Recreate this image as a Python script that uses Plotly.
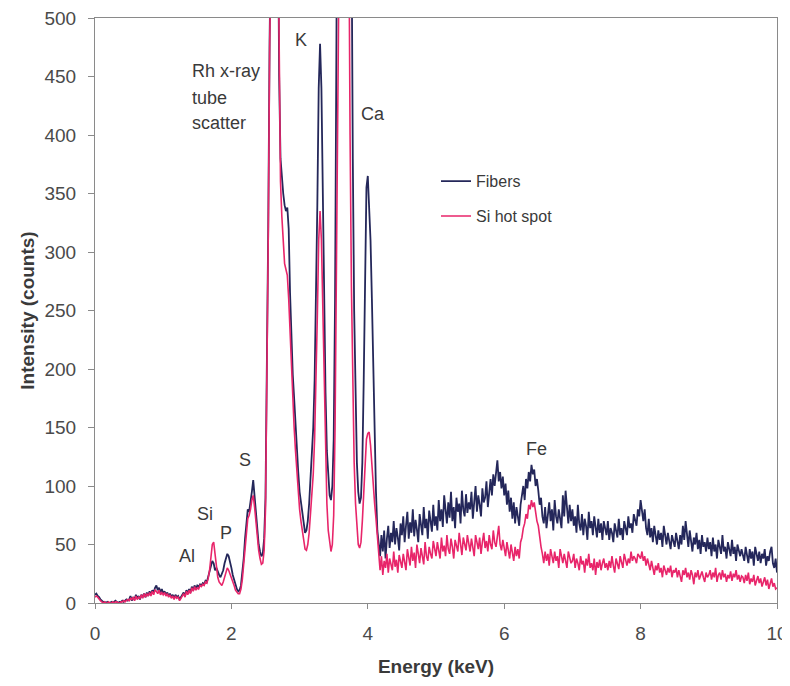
import plotly.graph_objects as go

# Channel calibration (keV): energy of channel i = ENERGY_START + i * ENERGY_STEP
ENERGY_START = 0.0
ENERGY_STEP = 0.02

# Counts, one row per 0.5 keV (25 channels), last value at 10 keV
fibers_counts = (
    [7, 8, 6, 5, 3, 2, 1, 1, 0, 1, 0, 0, 1, 0, 1, 2, 1, 0, 1, 1, 2, 1, 2, 3, 2]
    + [3, 6, 2, 5, 3, 7, 4, 6, 3, 7, 5, 8, 5, 9, 6, 10, 7, 11, 9, 13, 15, 11, 13, 9, 12]
    + [8, 10, 7, 9, 6, 8, 5, 7, 4, 7, 5, 6, 3, 5, 7, 9, 6, 11, 8, 12, 9, 14, 11, 15, 12]
    + [15, 14, 16, 15, 17, 16, 19, 18, 22, 26, 32, 36, 34, 28, 30, 26, 24, 22, 25, 28, 34, 38, 42, 40, 36]
    + [30, 24, 20, 15, 12, 10, 11, 15, 25, 38, 55, 68, 80, 78, 85, 95, 105, 90, 75, 60, 50, 44, 40, 42, 55]
    + [90, 180, 320, 480, 620, 750, 830, 860, 800, 620, 450, 380, 360, 350, 340, 335, 338, 320, 265, 225, 195, 175, 150, 130, 112]
    + [95, 85, 75, 66, 60, 62, 70, 85, 105, 125, 150, 190, 250, 340, 440, 478, 440, 340, 250, 180, 130, 105, 92, 88, 100]
    + [140, 260, 480, 800, 1200, 1600, 1900, 2000, 2000, 1900, 1600, 1200, 800, 560, 380, 250, 170, 120, 95, 85, 90, 120, 190, 290, 355]
    + [365, 340, 310, 260, 200, 140, 95, 62, 48, 40, 58, 44, 62, 38, 55, 66, 47, 60, 52, 70, 50, 64, 56, 45, 68]
    + [58, 74, 52, 66, 78, 55, 69, 60, 80, 57, 71, 63, 52, 76, 67, 58, 82, 64, 72, 55, 79, 68, 61, 84, 66]
    + [74, 62, 88, 70, 80, 65, 92, 76, 68, 86, 73, 95, 70, 82, 64, 90, 78, 85, 68, 96, 80, 74, 93, 77, 86]
    + [80, 95, 72, 88, 100, 78, 92, 84, 74, 98, 86, 90, 104, 82, 96, 106, 92, 110, 100, 115, 122, 104, 112, 98, 108]
    + [92, 102, 84, 96, 78, 90, 72, 86, 68, 82, 74, 66, 84, 92, 100, 88, 106, 98, 112, 104, 118, 110, 114, 100, 106]
    + [96, 84, 90, 74, 68, 82, 64, 78, 86, 70, 80, 62, 88, 74, 68, 80, 72, 64, 92, 74, 96, 78, 68, 84, 70]
    + [80, 66, 74, 60, 84, 68, 62, 76, 58, 72, 66, 54, 78, 64, 70, 58, 74, 62, 56, 72, 60, 68, 54, 70, 62]
    + [58, 70, 54, 64, 60, 52, 68, 62, 56, 72, 58, 64, 54, 70, 62, 58, 74, 64, 68, 60, 76, 70, 66, 80, 74]
    + [88, 76, 70, 80, 64, 58, 72, 56, 64, 52, 66, 58, 50, 62, 54, 60, 48, 66, 56, 50, 60, 52, 46, 58, 54]
    + [48, 60, 52, 46, 58, 50, 66, 54, 70, 56, 48, 62, 50, 44, 56, 50, 60, 46, 54, 42, 58, 48, 52, 44, 56]
    + [46, 52, 40, 56, 44, 50, 38, 54, 46, 42, 58, 44, 48, 38, 52, 44, 40, 54, 42, 48, 36, 50, 44, 40, 46]
    + [42, 36, 48, 40, 34, 46, 38, 44, 32, 48, 40, 36, 44, 34, 42, 38, 46, 32, 40, 36, 44, 48, 34, 30, 38]
    + [26]
)

si_hot_spot_counts = (
    [5, 6, 5, 3, 2, 1, 0, 1, 0, 0, 1, 0, 0, 1, 0, 1, 1, 0, 0, 1, 1, 2, 1, 2, 3]
    + [2, 4, 3, 5, 2, 6, 3, 5, 4, 7, 4, 8, 5, 8, 6, 9, 6, 10, 7, 11, 10, 8, 11, 7, 9]
    + [7, 9, 6, 8, 5, 7, 4, 6, 3, 6, 4, 5, 2, 4, 6, 8, 5, 10, 7, 11, 8, 13, 10, 14, 11]
    + [13, 12, 15, 14, 16, 15, 18, 17, 21, 28, 40, 50, 52, 40, 30, 22, 18, 16, 15, 18, 22, 26, 30, 28, 25]
    + [22, 18, 15, 11, 9, 8, 8, 12, 20, 32, 48, 60, 72, 75, 80, 88, 92, 82, 70, 55, 45, 38, 33, 34, 45]
    + [80, 170, 310, 470, 610, 740, 820, 850, 790, 600, 440, 360, 330, 310, 290, 285, 280, 260, 230, 195, 170, 150, 130, 112, 95]
    + [80, 70, 62, 52, 46, 45, 50, 60, 75, 92, 110, 140, 185, 245, 310, 335, 310, 245, 180, 125, 85, 62, 50, 44, 50]
    + [75, 150, 280, 420, 560, 800, 1000, 1100, 1100, 1000, 800, 560, 400, 270, 180, 120, 85, 62, 50, 47, 52, 70, 95, 125, 140]
    + [145, 146, 135, 115, 98, 85, 72, 55, 38, 28, 40, 24, 36, 30, 42, 26, 38, 33, 28, 44, 31, 37, 26, 41, 34]
    + [30, 42, 35, 28, 46, 38, 32, 48, 36, 43, 30, 50, 39, 34, 47, 41, 33, 52, 40, 36, 48, 42, 38, 53, 44]
    + [40, 52, 45, 38, 56, 44, 49, 40, 58, 46, 42, 55, 48, 38, 54, 50, 44, 60, 47, 41, 56, 49, 45, 58, 50]
    + [44, 55, 48, 40, 58, 50, 46, 56, 42, 52, 60, 47, 53, 44, 58, 50, 46, 62, 52, 48, 57, 66, 50, 45, 54]
    + [48, 40, 52, 44, 38, 50, 42, 36, 48, 40, 46, 38, 52, 56, 64, 68, 76, 72, 84, 80, 88, 82, 86, 76, 70]
    + [66, 56, 48, 42, 34, 44, 36, 42, 32, 46, 38, 34, 44, 36, 40, 30, 46, 38, 34, 42, 36, 30, 44, 38, 34]
    + [36, 42, 30, 38, 34, 28, 40, 33, 36, 26, 38, 32, 42, 30, 34, 28, 38, 24, 35, 30, 37, 28, 34, 38, 30]
    + [34, 28, 36, 30, 40, 32, 26, 38, 33, 29, 40, 34, 30, 42, 36, 32, 38, 34, 44, 36, 40, 38, 34, 42, 40]
    + [38, 44, 36, 40, 32, 38, 34, 28, 36, 30, 24, 32, 28, 34, 26, 30, 22, 32, 28, 24, 30, 26, 32, 22, 28]
    + [26, 30, 22, 28, 24, 18, 28, 24, 30, 22, 26, 20, 28, 24, 16, 26, 22, 28, 20, 24, 27, 22, 18, 26, 22]
    + [24, 28, 20, 26, 22, 30, 18, 24, 26, 20, 28, 22, 25, 18, 24, 21, 27, 19, 25, 22, 28, 20, 24, 18, 23]
    + [22, 17, 24, 19, 26, 16, 21, 18, 24, 15, 20, 23, 17, 21, 14, 19, 22, 15, 20, 12, 18, 21, 14, 17, 12]
    + [13]
)

series_names = ["Fibers", "Si hot spot"]

# Peak labels: (text, energy keV, counts)
peak_labels = [
    ("Rh x-ray", 1.39, 455),
    ("tube", 1.39, 432),
    ("scatter", 1.39, 410),
    ("K", 3.02, 481),
    ("Ca", 4.08, 418),
    ("S", 2.2, 122),
    ("Si", 1.61, 76),
    ("P", 1.92, 60),
    ("Al", 1.35, 40),
    ("Fe", 6.48, 132),
]

FONT = "Liberation Sans, Arial, sans-serif"

def energies_for(counts):
    return [round(ENERGY_START + i * ENERGY_STEP, 2) for i in range(len(counts))]

fig = go.Figure()
fig.add_trace(go.Scatter(
    x=energies_for(fibers_counts), y=fibers_counts, mode="lines",
    name=series_names[0], legendgroup="a",
    line=dict(color="#24275a", width=1.8),
))
fig.add_trace(go.Scatter(
    x=energies_for(si_hot_spot_counts), y=si_hot_spot_counts, mode="lines",
    name=series_names[1], legendgroup="b",
    line=dict(color="#e8256a", width=1.6),
))

for text, ex, cy in peak_labels:
    xanchor = "left" if text in ("Rh x-ray", "tube", "scatter") else "center"
    fig.add_annotation(
        x=ex, y=cy, text=text, showarrow=False, xanchor=xanchor, yanchor="middle",
        font=dict(family=FONT, size=18, color="#3a3a3a"),
    )

# The page body adds an 8px offset, so margins compensate for it.
fig.update_layout(
    width=790, height=686,
    margin=dict(l=87, r=21, t=10, b=91),
    paper_bgcolor="white", plot_bgcolor="white",
    font=dict(family=FONT, color="#444444"),
    showlegend=True,
    legend=dict(
        x=0.50, y=0.75, xanchor="left", yanchor="top",
        bgcolor="rgba(0,0,0,0)", font=dict(family=FONT, size=16, color="#3a3a3a"),
        itemwidth=30, tracegroupgap=11, traceorder="grouped",
    ),
    xaxis=dict(
        range=[0, 10], dtick=2, tick0=0, automargin=False,
        showgrid=False, zeroline=False,
        showline=True, linecolor="#8a8a8a", linewidth=1.2, mirror=True,
        ticks="outside", ticklen=5, tickcolor="#8a8a8a",
        ticklabelstandoff=8, ticklabeloverflow="allow",
        tickfont=dict(family=FONT, size=19, color="#4a4a4a"),
        title=dict(text="<b>Energy (keV)</b>", font=dict(family=FONT, size=19, color="#3a3a3a"), standoff=16),
    ),
    yaxis=dict(
        range=[0, 500], dtick=50, tick0=0, automargin=False,
        showgrid=False, zeroline=False,
        showline=True, linecolor="#8a8a8a", linewidth=1.2, mirror=True,
        ticks="outside", ticklen=6, tickcolor="#8a8a8a",
        ticklabelstandoff=8, ticklabeloverflow="allow",
        tickfont=dict(family=FONT, size=19, color="#4a4a4a"),
        title=dict(text="<b>Intensity (counts)</b>", font=dict(family=FONT, size=19, color="#3a3a3a"), standoff=4),
    ),
)

fig.write_html("out.html")
